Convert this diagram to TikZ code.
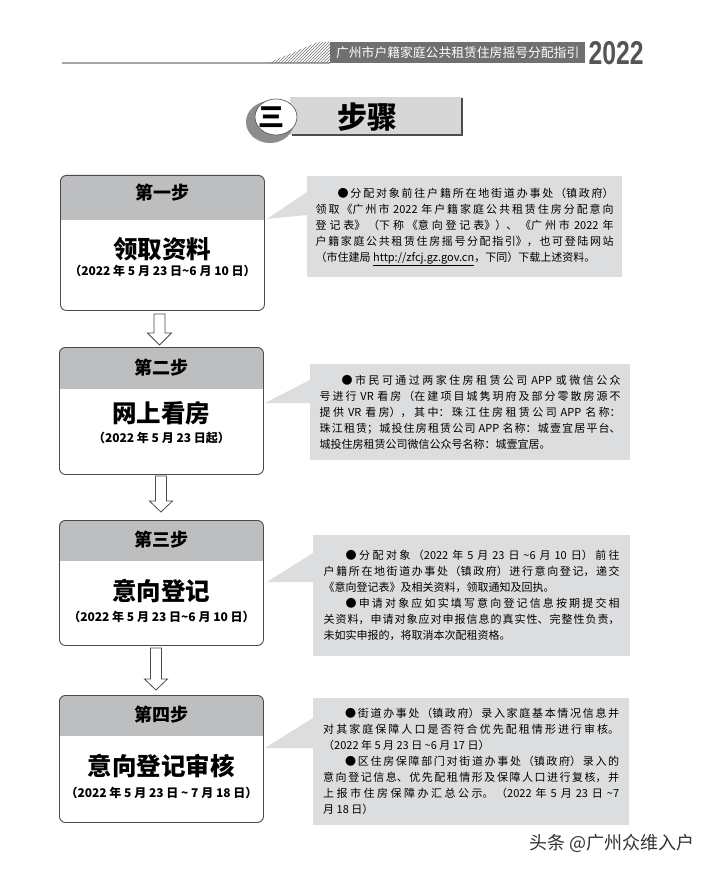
\documentclass[tikz,border=0pt]{standalone}
\usepackage{fontspec}
\setmainfont{Noto Sans CJK SC}
\newfontfamily\yearfont{Liberation Sans}
\usetikzlibrary{calc,patterns}
\XeTeXlinebreaklocale "zh"
\XeTeXlinebreakskip=0pt plus 2pt minus 0.3pt
\definecolor{bandgray}{HTML}{6F7072}
\definecolor{hdrgray}{HTML}{BDBEC0}
\definecolor{callgray}{HTML}{DCDDDF}
\definecolor{bordercol}{HTML}{4A4A4A}
\definecolor{titlegray}{HTML}{D7D7D7}
\definecolor{yeargray}{HTML}{555555}
\begin{document}
\begin{tikzpicture}[x=1pt,y=-1pt,
  stepbox/.style 2 args={draw=bordercol, line width=0.9pt, fill=white, rounded corners=6pt,
    minimum width=204pt, minimum height=#1, inner sep=0pt, anchor=north west,
    path picture={\fill[hdrgray, sharp corners] (path picture bounding box.north west) rectangle ([yshift=-#2]path picture bounding box.north east);}},
  steptitle/.style={font=\bfseries\fontsize{18}{20}\selectfont, inner sep=0pt},
  bigtitle/.style={font=\bfseries\fontsize{24.5}{28}\selectfont, inner sep=0pt},
  datetext/.style={font=\bfseries\fontsize{12}{14}\selectfont, inner sep=0pt},
  callout/.style={fill=callgray, anchor=north west, inner sep=0pt, align=justify,
    font=\fontsize{11}{16}\selectfont},
  pointer/.style={fill=callgray},
  hollow/.style={draw=bordercol, line width=0.8pt, fill=white, line join=miter},
]
\useasboundingbox (0,0) rectangle (711,869);
\fill[white] (0,0) rectangle (711,869);

% ---------- page header ----------
\draw[line width=1.5pt, black!35] (62,63) -- (330,63);
\fill[pattern=north east lines, pattern color=black!55] (268,63) -- (330,63) -- (330,42) -- (318,42) -- cycle;
\node[fill=bandgray, text=white, anchor=north west, minimum width=255pt, minimum height=21pt,
      inner sep=0pt, font=\fontsize{12.8}{14}\selectfont] (band) at (330,42) {广州市户籍家庭公共租赁住房摇号分配指引};
\node[inner sep=0pt, anchor=west, text=yeargray, font=\yearfont\bfseries\fontsize{33}{33}\selectfont]
      (year) at ($(band.east)+(3,0)$) {\scalebox{0.75}[1]{2022}};

% ---------- section title ----------
\fill[titlegray] (290,97) rectangle (462,135);
\draw[line width=2pt, black!70] (462,98) -- (462,135) -- (292,135);
\fill[black!45] (270,122) ellipse [x radius=24pt, y radius=21pt];
\fill[white] (276,117) ellipse [x radius=21pt, y radius=18pt];
\draw[line width=0.6pt, black!70] (276,117) ellipse [x radius=21pt, y radius=18pt];
\node[inner sep=0pt, font=\bfseries\fontsize{26}{26}\selectfont] (san) at (271,117) {三};
\node[inner sep=0pt, font=\bfseries\fontsize{30}{30}\selectfont] (buzhou) at (367,117) {步骤};

% ---------- step boxes ----------
\node[stepbox={135pt}{45pt}] (b1) at (60,175) {};
\node[stepbox={127pt}{42pt}] (b2) at (59,347) {};
\node[stepbox={125pt}{41pt}] (b3) at (59,520) {};
\node[stepbox={127pt}{41pt}] (b4) at (59,695) {};

\node[steptitle] (s1) at ($(b1.north)+(0,18)$) {第一步};
\node[bigtitle]  (m1) at ($(b1.north)+(0,74)$) {领取资料};
\node[datetext]  (d1) at ($(b1.north)+(0,96)$) {（2022 年 5 月 23 日\textasciitilde 6 月 10 日）};

\node[steptitle] (s2) at ($(b2.north)+(0,21)$) {第二步};
\node[bigtitle]  (m2) at ($(b2.north)+(0,66)$) {网上看房};
\node[datetext]  (d2) at ($(b2.north)+(0,91)$) {（2022 年 5 月 23 日起）};

\node[steptitle] (s3) at ($(b3.north)+(0,20)$) {第三步};
\node[bigtitle]  (m3) at ($(b3.north)+(0,71)$) {意向登记};
\node[datetext]  (d3) at ($(b3.north)+(0,97)$) {（2022 年 5 月 23 日\textasciitilde 6 月 10 日）};

\node[steptitle] (s4) at ($(b4.north)+(0,20)$) {第四步};
\node[bigtitle]  (m4) at ($(b4.north)+(0,71)$) {意向登记审核};
\node[datetext]  (d4) at ($(b4.north)+(0,98)$) {（2022 年 5 月 23 日 \textasciitilde\ 7 月 18 日）};

% ---------- hollow arrows ----------
\coordinate (a1s) at ($(b1.south)+(-3,3)$);
\coordinate (a1e) at ($(b2.north)+(-2,-2)$);
\draw[hollow] ($(a1s)+(-5.5,0)$) -- ($(a1s)+(5.5,0)$) -- ($(a1e)+(5.5,-12)$) -- ($(a1e)+(12,-12)$)
  -- (a1e) -- ($(a1e)+(-12,-12)$) -- ($(a1e)+(-5.5,-12)$) -- cycle;
\coordinate (a2s) at ($(b2.south)+(-0.5,1)$);
\coordinate (a2e) at ($(b3.north)+(-0.5,-8)$);
\draw[hollow] ($(a2s)+(-5.5,0)$) -- ($(a2s)+(5.5,0)$) -- ($(a2e)+(5.5,-11)$) -- ($(a2e)+(11.5,-11)$)
  -- (a2e) -- ($(a2e)+(-11.5,-11)$) -- ($(a2e)+(-5.5,-11)$) -- cycle;
\coordinate (a3s) at ($(b3.south)+(-5.5,2)$);
\coordinate (a3e) at ($(b4.north)+(-5.5,-5)$);
\draw[hollow] ($(a3s)+(-5.5,0)$) -- ($(a3s)+(5.5,0)$) -- ($(a3e)+(5.5,-11)$) -- ($(a3e)+(11.5,-11)$)
  -- (a3e) -- ($(a3e)+(-11.5,-11)$) -- ($(a3e)+(-5.5,-11)$) -- cycle;

% ---------- callouts ----------
\node[callout, text width=298pt, minimum width=315pt, minimum height=101pt] (c1) at (307,176) {%
\hspace*{2em}●分配对象前往户籍所在地街道办事处（镇政府）\linebreak
领取《广州市 2022 年户籍家庭公共租赁住房分配意向\linebreak
登记表》（下称《意向登记表》）、《广州市 2022 年\linebreak
户籍家庭公共租赁住房摇号分配指引》，也可登陆网站\linebreak
（市住建局 \underline{http://zfcj.gz.gov.cn}，下同）下载上述资料。\parfillskip=0pt\relax};

\node[callout, text width=301pt, minimum width=320pt, minimum height=96pt] (c2) at (310,364) {%
\hspace*{2em}●市民可通过两家住房租赁公司 APP 或微信公众\linebreak
号进行 VR 看房（在建项目城隽玥府及部分零散房源不\linebreak
提供 VR 看房），其中：珠江住房租赁公司 APP 名称：\linebreak
珠江租赁；城投住房租赁公司 APP 名称：城壹宜居平台、\linebreak
城投住房租赁公司微信公众号名称：城壹宜居。};

\node[callout, text width=296pt, minimum width=317pt, minimum height=121pt] (c3) at (313,535) {%
\hspace*{2em}●分配对象（2022 年 5 月 23 日 \textasciitilde 6 月 10 日）前往\linebreak
户籍所在地街道办事处（镇政府）进行意向登记，递交\linebreak
《意向登记表》及相关资料，领取通知及回执。\par
\hspace*{2em}●申请对象应如实填写意向登记信息按期提交相\linebreak
关资料，申请对象应对申报信息的真实性、完整性负责，\linebreak
未如实申报的，将取消本次配租资格。};

\node[callout, text width=296pt, minimum width=316pt, minimum height=127pt] (c4) at (313,698) {%
\hspace*{2em}●街道办事处（镇政府）录入家庭基本情况信息并\linebreak
对其家庭保障人口是否符合优先配租情形进行审核。\linebreak
（2022 年 5 月 23 日 \textasciitilde 6 月 17 日）\par
\hspace*{2em}●区住房保障部门对街道办事处（镇政府）录入的\linebreak
意向登记信息、优先配租情形及保障人口进行复核，并\linebreak
上报市住房保障办汇总公示。（2022 年 5 月 23 日 \textasciitilde 7\linebreak
月 18 日）};

% ---------- pointers ----------
\coordinate (p1) at ($(b1.north east)+(2,44)$);
\fill[pointer] (p1) -- ($(c1.north west)+(0,16)$) -- ($(c1.north west)+(0,39)$) -- cycle;
\coordinate (p2) at ($(b2.north east)+(1,56)$);
\fill[pointer] (p2) -- ($(c2.north west)+(0,16)$) -- ($(c2.north west)+(0,39)$) -- cycle;
\coordinate (p3) at ($(b3.north east)+(3,62)$);
\fill[pointer] (p3) -- ($(c3.north west)+(0,18)$) -- ($(c3.north west)+(0,47)$) -- cycle;
\coordinate (p4) at ($(b4.north east)+(1,53)$);
\fill[pointer] (p4) -- ($(c4.north west)+(0,20)$) -- ($(c4.north west)+(0,50)$) -- cycle;

% ---------- watermark ----------
\node[inner sep=0pt, anchor=east, text=black!80, font=\fontsize{18}{20}\selectfont] (wm) at (695,843) {头条 @广州众维入户};
\end{tikzpicture}
\end{document}
